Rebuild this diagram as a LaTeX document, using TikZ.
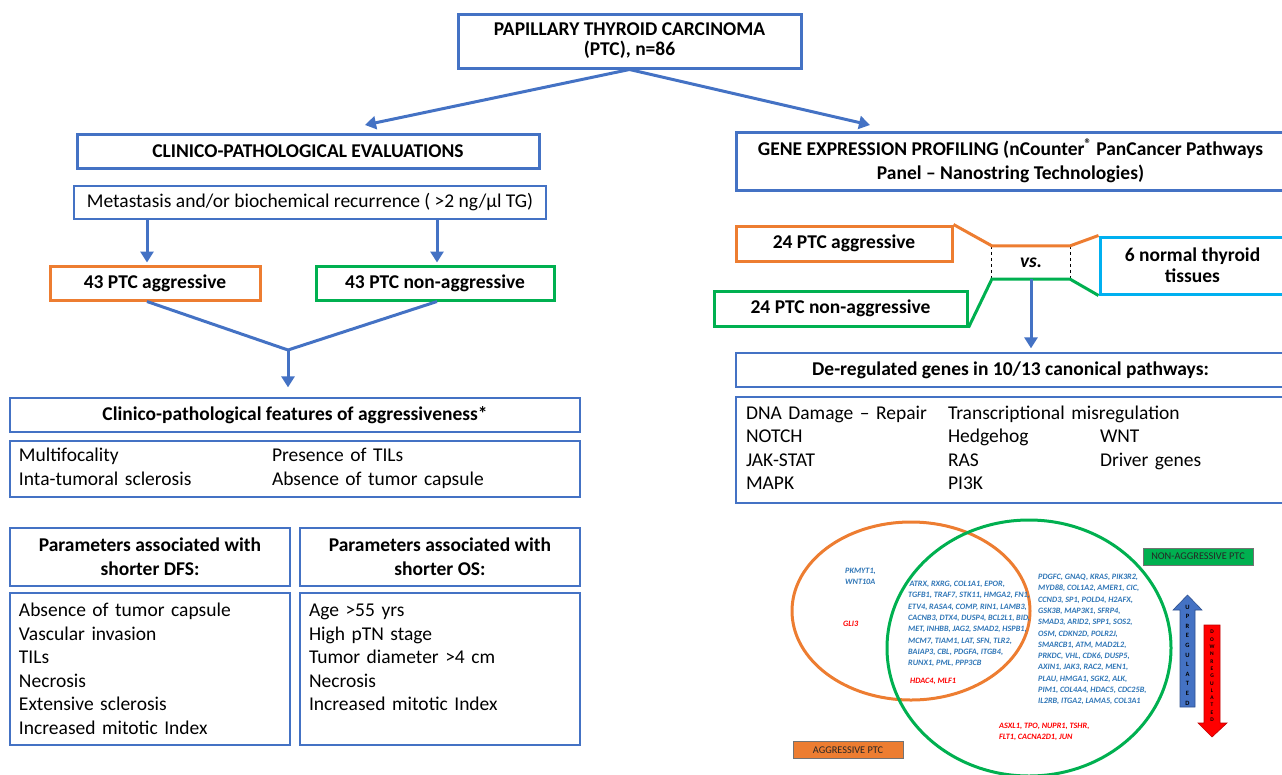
\documentclass[tikz,border=0pt]{standalone}
\usepackage{fontspec}
\setmainfont{Carlito}
\usepackage{tikz}
\usetikzlibrary{arrows.meta, positioning, calc}
\definecolor{ptcblue}{HTML}{4472C4}
\definecolor{aggorange}{HTML}{ED7D31}
\definecolor{nonagggreen}{HTML}{00B050}
\definecolor{normcyan}{HTML}{00B0F0}
\definecolor{geneblue}{HTML}{2E75B6}
\definecolor{genered}{HTML}{FF0000}
\definecolor{darkblue}{HTML}{2F528F}
\definecolor{darkred}{HTML}{C00000}
\tikzstyle{titlebox} = [rectangle, draw=ptcblue, line width=3pt, inner sep=0pt, align=center,
  font=\fontsize{19.5}{20}\selectfont\bfseries]
\tikzstyle{linebox} = [rectangle, draw=ptcblue, line width=1.3pt, inner sep=0pt,
  font=\fontsize{19.5}{23.5}\selectfont]
\tikzstyle{groupbox} = [rectangle, line width=3pt, inner sep=0pt, align=center,
  font=\fontsize{19.5}{21}\selectfont\bfseries]
\tikzstyle{genelist} = [anchor=north west, inner sep=0pt, align=left,
  font=\fontsize{8.2}{11.3}\selectfont\bfseries\itshape]
\tikzstyle{tagbox} = [rectangle, draw=black!55, line width=0.6pt, inner sep=0pt,
  minimum width=110pt, minimum height=17pt, font=\fontsize{10.3}{12}\selectfont, text=black!85]
\tikzstyle{arrow} = [line width=3pt, draw=ptcblue, -{Triangle[length=11pt,width=13pt]}]

\begin{document}
\begin{tikzpicture}[x=1pt, y=-1pt]
  \useasboundingbox (0,0) rectangle (1282,774);

  % top and the two branches
  \node (ptc)  [titlebox, minimum width=343pt, minimum height=54pt] at (629.5,41)
    {PAPILLARY THYROID CARCINOMA\\(PTC), n=86};
  \coordinate (clinarr) at (365,125);
  \coordinate (genarr) at (870,125);

  % clinico-pathological side
  \node (clin) [titlebox, minimum width=462pt, minimum height=34pt] at (308,151)
    {CLINICO-PATHOLOGICAL EVALUATIONS};
  \node (meta) [linebox, minimum width=472pt, minimum height=33pt] at (310,202.5)
    {Metastasis and/or biochemical recurrence ( >2 ng/µl TG)};
  \node (agg)    [groupbox, draw=aggorange, minimum width=210pt, minimum height=34pt] at (155,283)
    {43 PTC aggressive};
  \node (nonagg) [groupbox, draw=nonagggreen, minimum width=238pt, minimum height=34pt] at (435,283)
    {43 PTC non-aggressive};
  \coordinate (merge) at (288,350);
  \node (feathead) [linebox, font=\fontsize{19.5}{21}\selectfont\bfseries, minimum width=570pt,
    minimum height=34pt] at (295,415) {Clinico-pathological features of aggressiveness*};
  \node (feat) [linebox, text width=552pt, inner xsep=9pt, minimum height=56pt] at (295,469)
    {\begin{tabular}{@{}p{253pt}@{}l@{}}
      Multifocality & Presence of TILs\\
      Inta-tumoral sclerosis & Absence of tumor capsule
    \end{tabular}};
  \node (dfshead) [linebox, font=\fontsize{19.5}{24}\selectfont\bfseries, align=center,
    minimum width=280pt, minimum height=58pt] at (150,557)
    {Parameters associated with\\shorter DFS:};
  \node (oshead) [linebox, font=\fontsize{19.5}{24}\selectfont\bfseries, align=center,
    minimum width=280pt, minimum height=58pt] at (440,557)
    {Parameters associated with\\shorter OS:};
  \node (dfs) [linebox, text width=262pt, inner xsep=9pt, align=left, minimum height=152pt] at (150,669)
    {Absence of tumor capsule\\Vascular invasion\\TILs\\Necrosis\\Extensive sclerosis\\Increased mitotic Index};
  \node (os) [linebox, text width=262pt, inner xsep=9pt, align=left, minimum height=152pt] at (440,669)
    {Age >55 yrs\\High pTN stage\\Tumor diameter >4 cm\\Necrosis\\Increased mitotic Index\\\phantom{X}};

  % gene expression side
  \node (gep) [titlebox, font=\fontsize{19.5}{24}\selectfont\bfseries, minimum width=549pt,
    minimum height=58pt] at (1010.5,161)
    {GENE EXPRESSION PROFILING (nCounter\textsuperscript{®} PanCancer Pathways\\Panel – Nanostring Technologies)};
  \node (agg2)    [groupbox, draw=aggorange, minimum width=216pt, minimum height=35pt] at (844,243.5)
    {24 PTC aggressive};
  \node (nonagg2) [groupbox, draw=nonagggreen, minimum width=253pt, minimum height=35pt] at (840.5,308.5)
    {24 PTC non-aggressive};
  \node (vs) [minimum width=78pt, minimum height=33pt, inner sep=0pt,
    font=\fontsize{19.5}{21}\selectfont\bfseries\itshape] at (1031,262.5) {vs.};
  \node (norm) [groupbox, draw=normcyan, minimum width=185pt, minimum height=57pt] at (1192.5,265.5)
    {6 normal thyroid\\tissues};
  \node (dereg) [linebox, font=\fontsize{19.5}{21}\selectfont\bfseries, minimum width=549pt,
    minimum height=34pt] at (1010.5,370) {De-regulated genes in 10/13 canonical pathways:};
  \node (path) [linebox, text width=529pt, inner xsep=10pt, minimum height=106pt] at (1010.5,450)
    {\begin{tabular}{@{}p{202pt}@{}p{152pt}@{}l@{}}
      DNA Damage – Repair & \multicolumn{2}{@{}l}{Transcriptional misregulation}\\
      NOTCH & Hedgehog & WNT\\
      JAK-STAT & RAS & Driver genes\\
      MAPK & PI3K &
    \end{tabular}};

  \draw[arrow] (ptc.south) -- (clinarr);
  \draw[arrow] (ptc.south) -- (genarr);
  \draw[arrow, shorten >=2pt] ([xshift=-8pt]agg.north |- meta.south) -- ([xshift=-8pt]agg.north);
  \draw[arrow, shorten >=2pt] ([xshift=2pt]nonagg.north |- meta.south) -- ([xshift=2pt]nonagg.north);
  \draw[line width=3pt, ptcblue] ([xshift=-8pt]agg.south) -- (merge) -- ([xshift=2pt]nonagg.south);
  \draw[arrow, shorten >=10pt] (merge) -- (merge |- feathead.north);

  \draw[line width=1.2pt, dashed] (vs.north west) -- (vs.south west);
  \draw[line width=1.2pt, dashed] (vs.north east) -- (vs.south east);
  \draw[line width=3pt, aggorange] (agg2.north east) -- (vs.north west) -- (vs.north east) -- (norm.north west);
  \draw[line width=3pt, nonagggreen] (nonagg2.south east) -- (vs.south west) -- (vs.south east) -- (norm.south west);
  \draw[arrow, shorten >=4pt] (vs.south) -- (vs.south |- dereg.north);

  % venn of de-regulated genes
  \draw[aggorange, line width=3pt] (911,611) ellipse [x radius=119pt, y radius=89pt];
  \draw[nonagggreen, line width=3pt] (1029,648) ellipse [x radius=142pt, y radius=128pt];
  \node (aggup) [genelist, text=geneblue] at (845,568) {PKMYT1,\\WNT10A};
  \node (aggdown) [genelist, text=genered] at (843,621) {GLI3};
  \node (bothup) [genelist, text=geneblue] at (908,581)
    {\,ATRX, RXRG, COL1A1, EPOR,\\TGFB1, TRAF7, STK11, HMGA2, FN1,\\ETV4, RASA4, COMP, RIN1, LAMB3,\\
     CACNB3, DTX4, DUSP4, BCL2L1, BID,\\MET, INHBB, JAG2, SMAD2, HSPB1,\\MCM7, TIAM1, LAT, SFN, TLR2,\\
     BAIAP3, CBL, PDGFA, ITGB4,\\RUNX1, PML, PPP3CB};
  \node (bothdown) [genelist, text=genered] at (910,678) {HDAC4, MLF1};
  \node (nonaggup) [genelist, text=geneblue] at (1038,574)
    {PDGFC, GNAQ, KRAS, PIK3R2,\\MYD88, COL1A2, AMER1, CIC,\\CCND3, SP1, POLD4, H2AFX,\\
     GSK3B, MAP3K1, SFRP4,\\SMAD3, ARID2, SPP1, SOS2,\\OSM, CDKN2D, POLR2J,\\
     SMARCB1, ATM, MAD2L2,\\PRKDC, VHL, CDK6, DUSP5,\\AXIN1, JAK3, RAC2, MEN1,\\
     PLAU, HMGA1, SGK2, ALK,\\PIM1, COL4A4, HDAC5, CDC25B,\\IL2RB, ITGA2, LAMA5, COL3A1};
  \node (nonaggdown) [genelist, text=genered] at (999,723)
    {ASXL1, TPO, NUPR1, TSHR,\\FLT1, CACNA2D1, JUN};
  \node (aggtag)    [tagbox, fill=aggorange] at (848,750) {AGGRESSIVE PTC};
  \node (nonaggtag) [tagbox, fill=nonagggreen] at (1198,556.5) {NON-AGGRESSIVE PTC};

  % up / down keys
  \filldraw[fill=ptcblue, draw=darkblue, line width=0.6pt]
    (1180,707) -- (1180,610) -- (1173,610) -- (1187.5,595) -- (1202,610) -- (1195,610) -- (1195,707) -- cycle;
  \filldraw[fill=genered, draw=darkred, line width=0.6pt]
    (1204,625) -- (1204,723) -- (1198,723) -- (1212,737) -- (1227,723) -- (1220,723) -- (1220,625) -- cycle;
  \node (uptxt) [inner sep=0pt, align=center, font=\fontsize{6.5}{9.6}\selectfont\bfseries] at (1187.5,655)
    {U\\P\\R\\E\\G\\U\\L\\A\\T\\E\\D};
  \node (downtxt) [inner sep=0pt, align=center, font=\fontsize{5.5}{7.3}\selectfont\bfseries] at (1212,676)
    {D\\O\\W\\N\\R\\E\\G\\U\\L\\A\\T\\E\\D};
\end{tikzpicture}
\end{document}
